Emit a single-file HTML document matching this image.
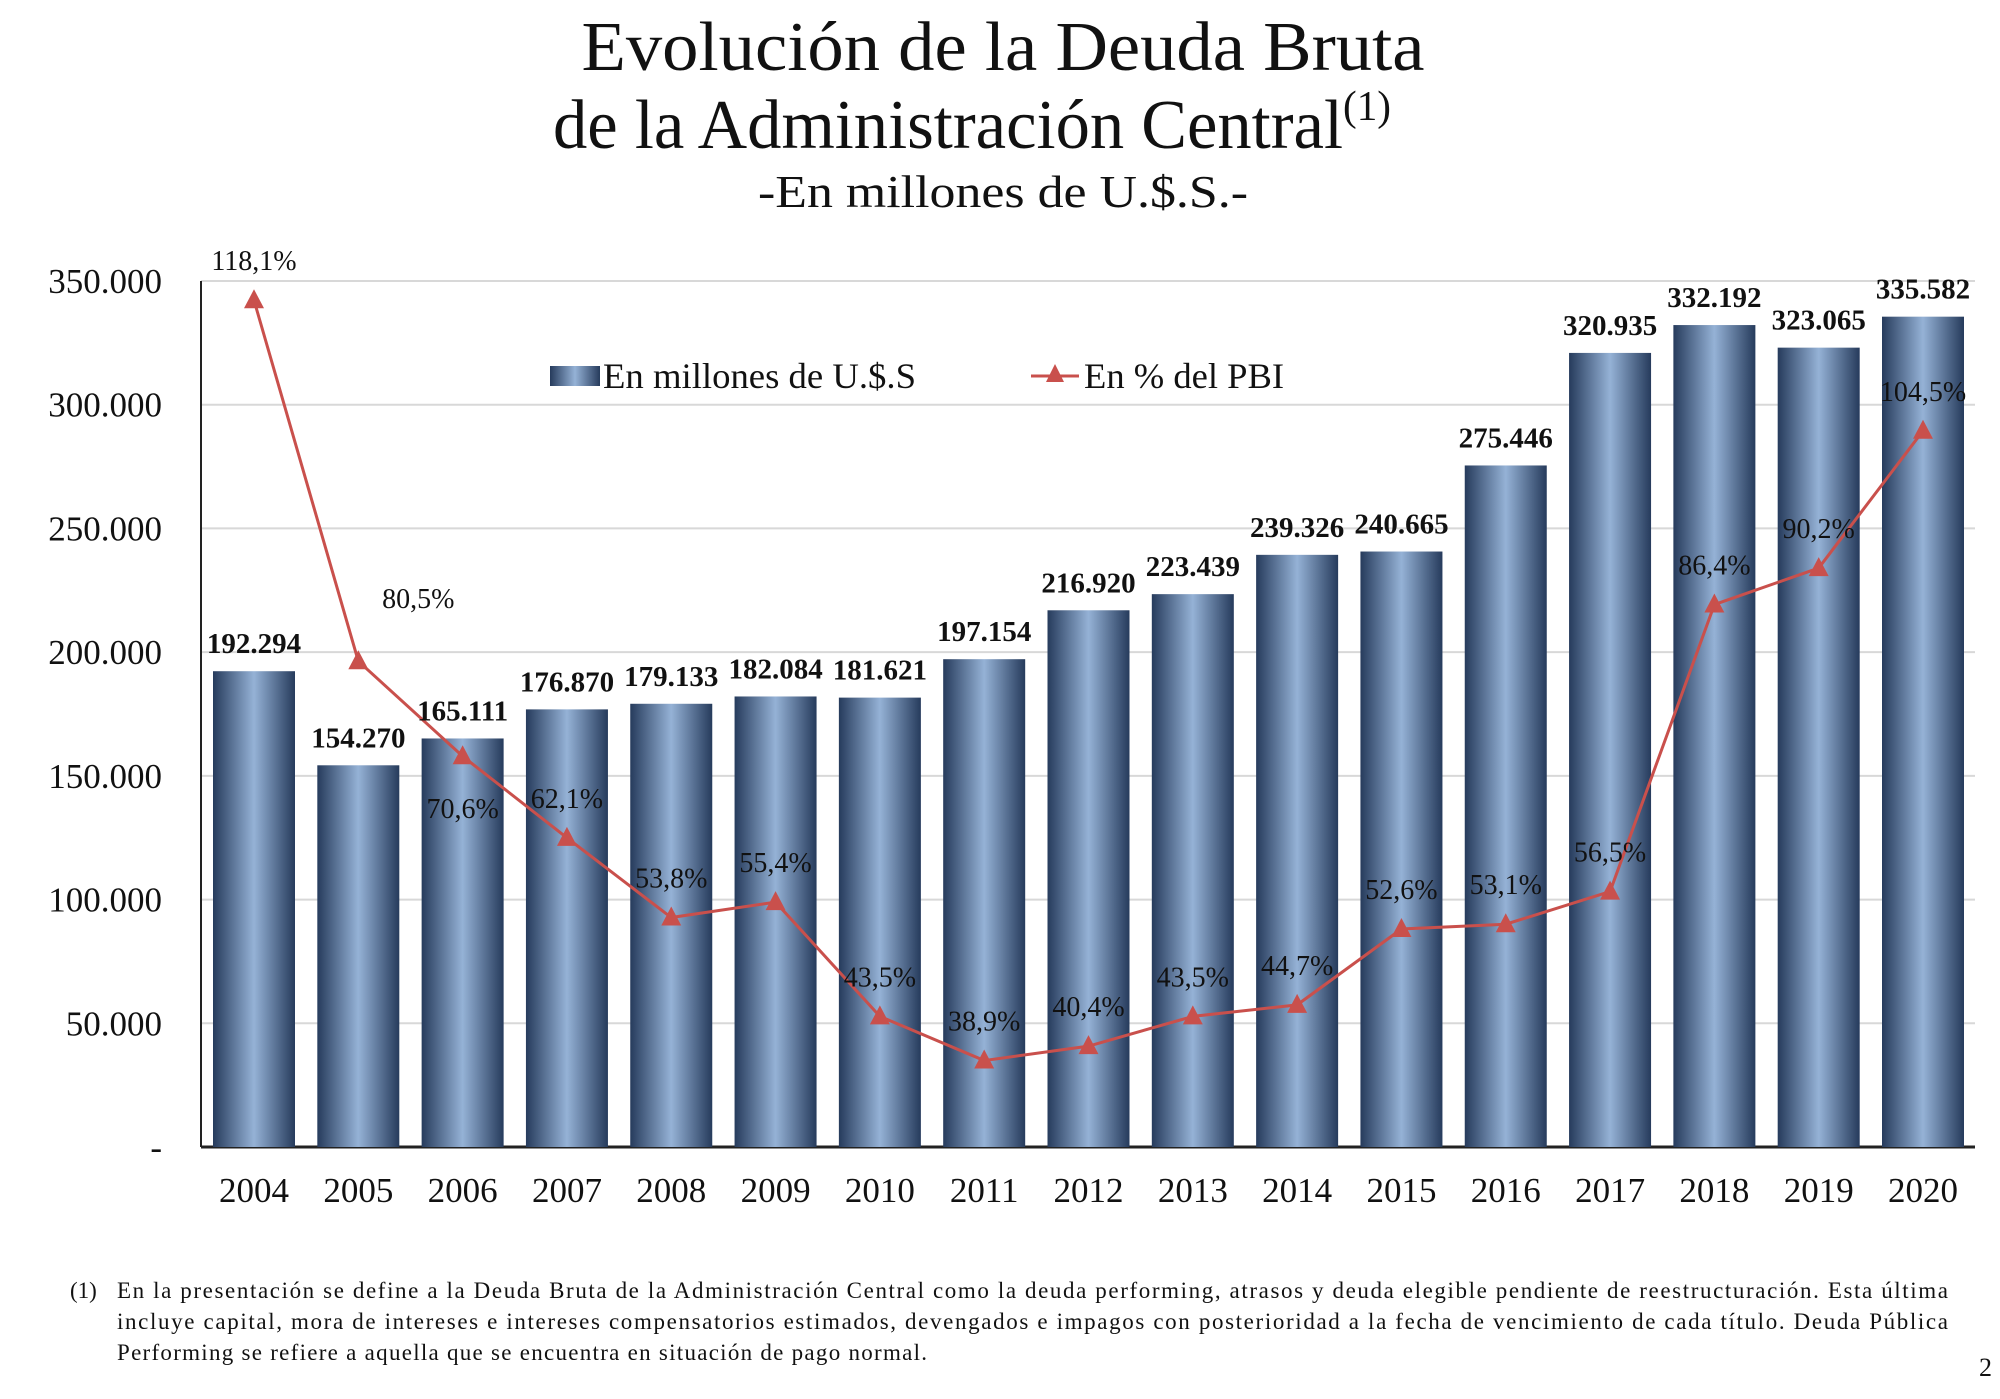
<!DOCTYPE html>
<html><head><meta charset="utf-8"><style>
html,body{margin:0;padding:0;background:#fff;}
svg{display:block;}
text{font-family:"Liberation Serif",serif;fill:#111;}
</style></head><body>
<svg id="chart" width="2000" height="1399" viewBox="0 0 2000 1399" xmlns="http://www.w3.org/2000/svg">
<defs>
<linearGradient id="barGrad" x1="0" y1="0" x2="1" y2="0">
<stop offset="0" stop-color="#263b5c"/><stop offset="0.5" stop-color="#95b2d6"/><stop offset="1" stop-color="#263b5c"/>
</linearGradient>
</defs>
<text x="1003" y="70" font-size="70" text-anchor="middle" textLength="843" lengthAdjust="spacingAndGlyphs">Evolución de la Deuda Bruta</text>
<text x="553" y="148" font-size="70" textLength="838" lengthAdjust="spacingAndGlyphs">de la Administración Central<tspan font-size="42" dy="-28">(1)</tspan></text>
<text x="1003" y="207" font-size="46" text-anchor="middle" textLength="490" lengthAdjust="spacingAndGlyphs">-En millones de U.$.S.-</text>
<g id="grid"></g>
<g id="bars"></g>
<g id="line"></g>
<g id="labels"></g>
<g>
<rect x="550" y="366" width="50" height="20" fill="url(#barGrad)"/>
<text x="603" y="388" font-size="36" textLength="313" lengthAdjust="spacingAndGlyphs">En millones de U.$.S</text>
<line x1="1031" y1="376" x2="1079" y2="376" stroke="#c9504c" stroke-width="3"/>
<polygon points="1055,364 1064,382 1046,382" fill="#c9504c"/>
<text x="1084" y="388" font-size="36" textLength="200" lengthAdjust="spacingAndGlyphs">En % del PBI</text>
</g>
<g font-size="23">
<text x="70" y="1298">(1)</text>
<text x="117" y="1298" textLength="1831" lengthAdjust="spacing">En la presentación se define a la Deuda Bruta de la Administración Central como la deuda performing, atrasos y deuda elegible pendiente de reestructuración. Esta última</text>
<text x="117" y="1329" textLength="1831" lengthAdjust="spacing">incluye capital, mora de intereses e intereses compensatorios estimados, devengados e impagos con posterioridad a la fecha de vencimiento de cada título. Deuda Pública</text>
<text x="117" y="1360" textLength="810" lengthAdjust="spacing">Performing se refiere a aquella que se encuentra en situación de pago normal.</text>
</g>
<text x="1992" y="1376" font-size="26" text-anchor="end">2</text>
</svg>
<script>
const years = ["2004","2005","2006","2007","2008","2009","2010","2011","2012","2013","2014","2015","2016","2017","2018","2019","2020"];
const debtValues = [192294,154270,165111,176870,179133,182084,181621,197154,216920,223439,239326,240665,275446,320935,332192,323065,335582];
const debtLabels = ["192.294","154.270","165.111","176.870","179.133","182.084","181.621","197.154","216.920","223.439","239.326","240.665","275.446","320.935","332.192","323.065","335.582"];
const pctValues = [118.1,80.5,70.6,62.1,53.8,55.4,43.5,38.9,40.4,43.5,44.7,52.6,53.1,56.5,86.4,90.2,104.5];
const pctLabels = ["118,1%","80,5%","70,6%","62,1%","53,8%","55,4%","43,5%","38,9%","40,4%","43,5%","44,7%","52,6%","53,1%","56,5%","86,4%","90,2%","104,5%"];
const yTicks = [0,50000,100000,150000,200000,250000,300000,350000];
const yTickLabels = ["-","50.000","100.000","150.000","200.000","250.000","300.000","350.000"];

const NS="http://www.w3.org/2000/svg";
const plotL=201, plotR=1975, base=1147, top350=281;
const step=(1923-254)/16;
function xPos(i){return 254+i*step;}
function yVal(v){return base-(v/350000)*(base-top350);}
function yPct(p){return 1434-9.6*p;}
function mk(tag,attrs,parent){const e=document.createElementNS(NS,tag);for(const k in attrs)e.setAttribute(k,attrs[k]);parent.appendChild(e);return e;}

const grid=document.getElementById('grid');
yTicks.forEach((t,i)=>{
  const y=yVal(t);
  if(t>0){const gl=mk('line',{x1:plotL,x2:plotR,y1:y,y2:y,stroke:'#d8d8d8','stroke-width':2},grid);
  
  }
  const tx=mk('text',{x:162,y:y+12,'font-size':35,'text-anchor':'end'},grid);
  
  
  tx.textContent=yTickLabels[i];
});
const ax=mk('line',{x1:plotL,x2:plotL,y1:top350,y2:base,stroke:'#222','stroke-width':2},grid);


const bx=mk('line',{x1:plotL,x2:plotR,y1:base,y2:base,stroke:'#222','stroke-width':3},grid);



const bars=document.getElementById('bars'), labels=document.getElementById('labels'), line=document.getElementById('line');
const bw=82;
debtValues.forEach((v,i)=>{
  const x=xPos(i), y=yVal(v);
  const r=mk('rect',{x:x-bw/2,y:y,width:bw,height:base-y,fill:'url(#barGrad)'},bars);
  
  
  const t=mk('text',{x:x,y:y-18,'font-size':29,'font-weight':'bold','text-anchor':'middle'},labels);
  
  
  t.textContent=debtLabels[i];
  const yl=mk('text',{x:x,y:1202,'font-size':35,'text-anchor':'middle'},labels);
  
  
  yl.textContent=years[i];
});
const pts=pctValues.map((p,i)=>xPos(i)+','+yPct(p)).join(' ');
const pl=mk('polyline',{points:pts,fill:'none',stroke:'#c9504c','stroke-width':3},line);


pctValues.forEach((p,i)=>{
  const x=xPos(i), y=yPct(p);
  const m=mk('polygon',{points:`${x},${y-11} ${x+10},${y+8} ${x-10},${y+8}`,fill:'#c9504c'},line);
  
  
  let dx=0, dy=-30;
  if(i===1){dx=60;dy=-53;} else if(i===2){dy=62;}
  const t=mk('text',{x:x+dx,y:y+dy,'font-size':28,'text-anchor':'middle'},labels);
  
  
  t.textContent=pctLabels[i];
});
</script>
</body></html>
